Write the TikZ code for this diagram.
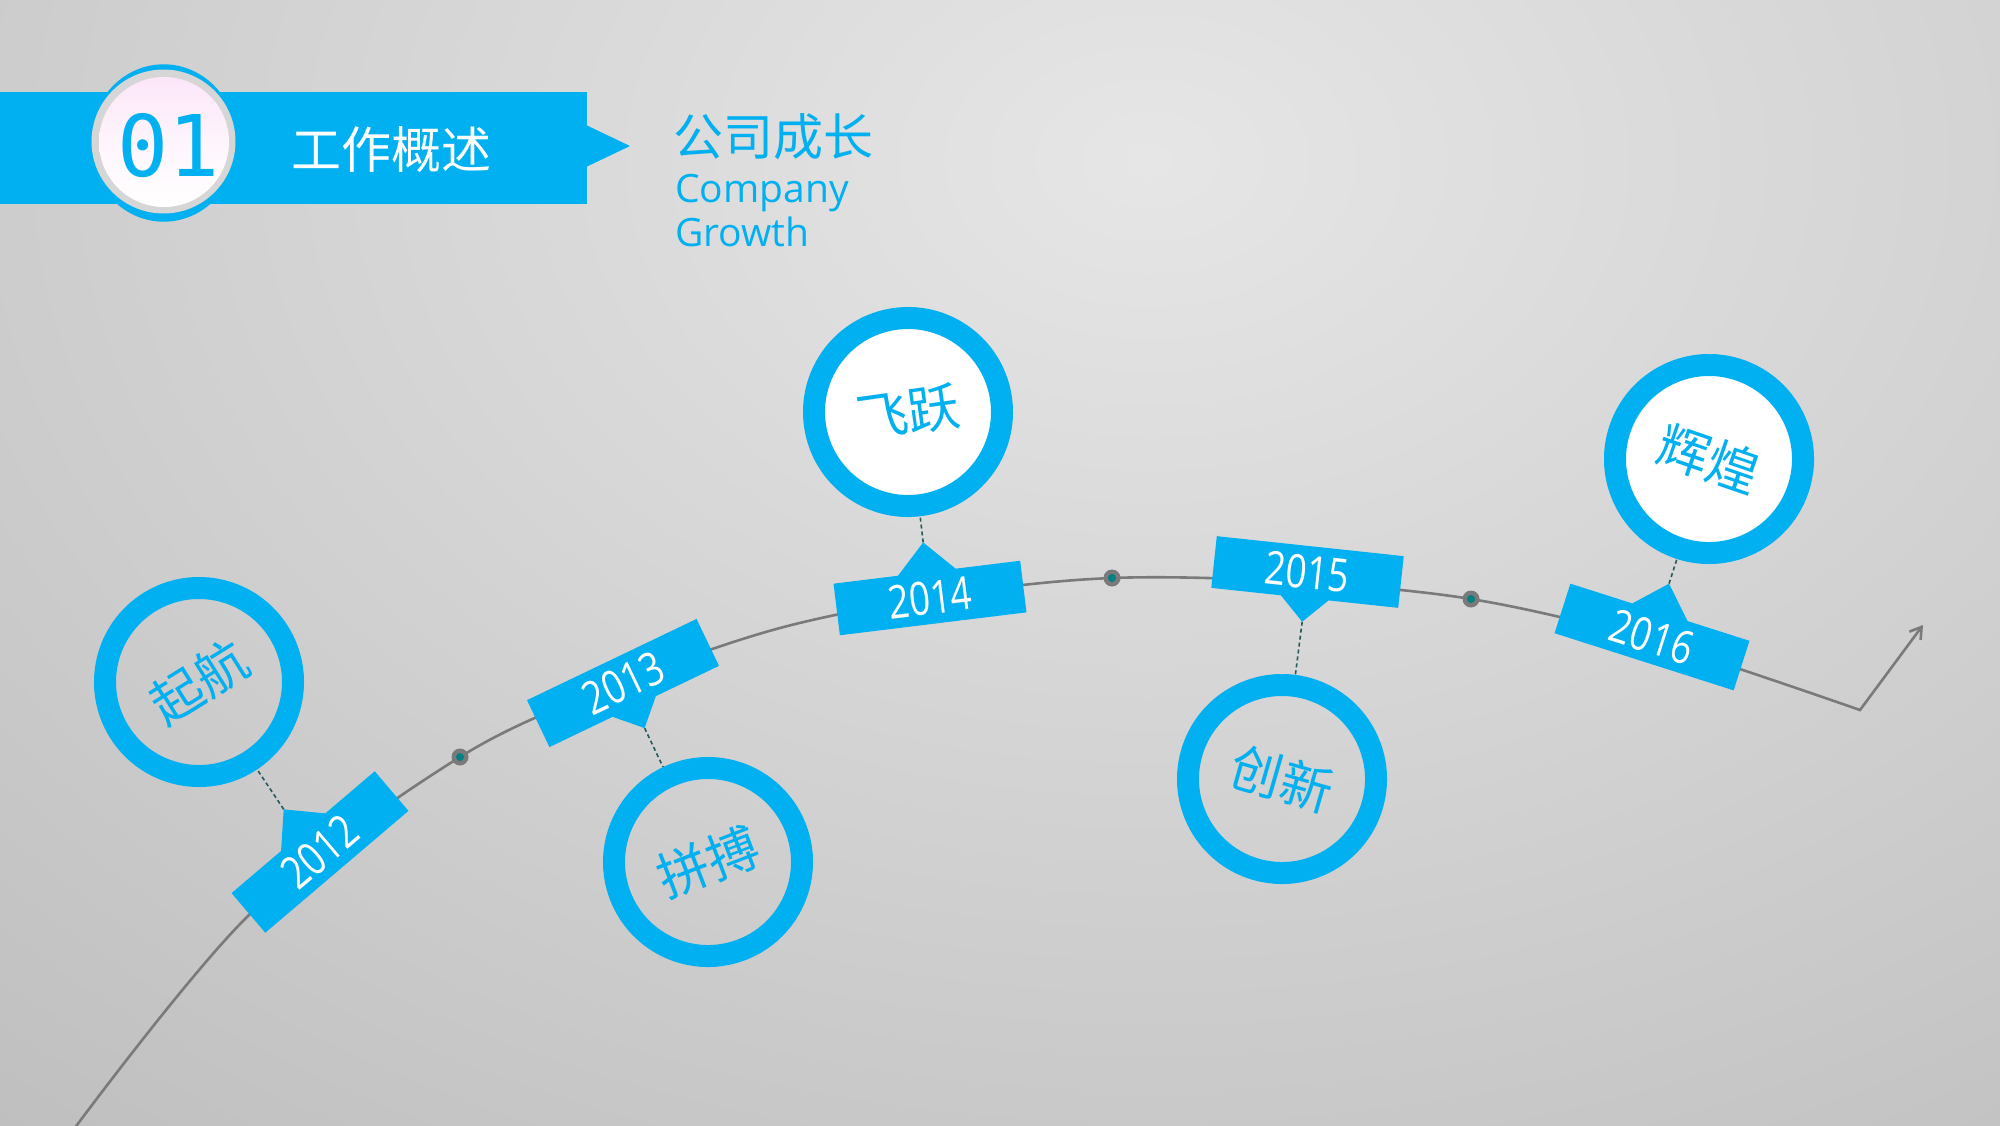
\documentclass[tikz,border=0pt]{standalone}
\usepackage{fontspec}
\newfontfamily\cjk{Noto Sans CJK SC}
\newfontfamily\latinf{Open Sans}
\newfontfamily\yearf[FakeStretch=0.8]{Open Sans}
\newfontfamily\monof{DejaVu Sans Mono}
\usetikzlibrary{arrows.meta}
\definecolor{cblue}{RGB}{0,176,240}
\definecolor{bgin}{RGB}{230,230,230}
\definecolor{bgout}{RGB}{184,184,184}
\definecolor{curvec}{RGB}{122,122,122}
\definecolor{tealc}{RGB}{0,128,128}
\definecolor{connc}{RGB}{40,90,90}
\definecolor{pinkc}{RGB}{252,230,248}
\definecolor{bevel}{RGB}{214,214,214}
\pgfdeclarelayer{back}
\pgfdeclarelayer{mid}
\pgfsetlayers{back,mid,main}
\begin{document}
\begin{tikzpicture}[x=1pt,y=-1pt,
  ring/.style={circle, draw=cblue, line width=22pt, minimum size=188pt, inner sep=0pt, text=cblue, font=\cjk\fontsize{52}{60}\selectfont},
  wring/.style={ring, fill=white},
  yeartext/.style={text=white, font=\yearf\fontsize{46}{50}\selectfont, inner sep=0pt, transform shape},
  conn/.style={draw=connc, line width=1.6pt, dash pattern=on 4pt off 3pt},
  tline/.style={draw=curvec, line width=2.6pt},
  dotout/.style={circle, fill=curvec, minimum size=17pt, inner sep=0pt},
  dotin/.style={circle, fill=tealc, minimum size=8pt, inner sep=0pt}]

\useasboundingbox (0,0) rectangle (2000,1125);
\begin{pgfonlayer}{back}
  \clip (0,0) rectangle (2000,1125);
  \fill[bgout] (0,0) rectangle (2000,1125);
  \shade[inner color=bgin, outer color=bgout] (1150,160) ellipse [x radius=2100pt, y radius=1500pt];
\end{pgfonlayer}

% header
\fill[cblue] (0,92) rectangle (587,204);
\fill[cblue] (586,125) -- (630,146) -- (586,167) -- cycle;
\fill[cblue] (163.7,143) ellipse [x radius=73.7pt, y radius=78.7pt];
\fill[bevel] (163.5,141.5) circle (72pt);
\shade[top color=pinkc, bottom color=white, middle color=pinkc!40!white] (164,142) circle (65pt);
\node[text=cblue, font=\monof\fontsize{85}{90}\selectfont, inner sep=0pt] (num) at (168.5,146) {01};
\node[text=white, font=\cjk\fontsize{50}{60}\selectfont, inner sep=0pt] (title) at (391,150) {工作概述};
\node[text=cblue, font=\cjk\fontsize{50}{60}\selectfont, inner sep=0pt, anchor=west] (sub) at (673,137) {公司成长};
\node[text=cblue, font=\latinf\fontsize{39}{44}\selectfont, inner sep=0pt, anchor=base west] (en1) at (675,202) {Company};
\node[text=cblue, font=\latinf\fontsize{39}{44}\selectfont, inner sep=0pt, anchor=base west] (en2) at (675,246) {Growth};

% curve coordinates
\coordinate (p0) at (71,1133);
\coordinate (p1) at (250,914);
\coordinate (d1) at (460,757);
\coordinate (p2) at (620,683.5);
\coordinate (p3) at (780,628);
\coordinate (p4) at (950,594.5);
\coordinate (d2) at (1112,578);
\coordinate (p5) at (1290,581.5);
\coordinate (d3) at (1471,599);
\coordinate (p6) at (1650,640.5);
\coordinate (p7) at (1860,710);
\coordinate (pe) at (1923,625);

% year labels
\begin{scope}[shift={(320,852)}, rotate=40.4]
  \fill[cblue] (-94,-26) -- (-29,-26) -- (0,-56) -- (29,-26) -- (94,-26) -- (94,26) -- (-94,26) -- cycle;
  \node[yeartext] (y12) at (0,0) {2012};
  \coordinate (t12) at (0,-56);
\end{scope}
\begin{scope}[shift={(623,683)}, rotate=25.6]
  \fill[cblue] (-94,-26) -- (94,-26) -- (94,26) -- (24,26) -- (0,50) -- (-24,26) -- (-94,26) -- cycle;
  \node[yeartext] (y13) at (0,0) {2013};
  \coordinate (t13) at (0,50);
\end{scope}
\begin{scope}[shift={(930,598)}, rotate=7]
  \fill[cblue] (-94,-26) -- (-29,-26) -- (0,-56) -- (29,-26) -- (94,-26) -- (94,26) -- (-94,26) -- cycle;
  \node[yeartext] (y14) at (0,0) {2014};
  \coordinate (t14) at (0,-56);
\end{scope}
\begin{scope}[shift={(1307.5,572)}, rotate=-6.1]
  \fill[cblue] (-94,-26) -- (94,-26) -- (94,26) -- (24,26) -- (0,50) -- (-24,26) -- (-94,26) -- cycle;
  \node[yeartext] (y15) at (0,0) {2015};
  \coordinate (t15) at (0,50);
\end{scope}
\begin{scope}[shift={(1652,637)}, rotate=-17.7]
  \fill[cblue] (-94,-26) -- (-29,-26) -- (0,-56) -- (29,-26) -- (94,-26) -- (94,26) -- (-94,26) -- cycle;
  \node[yeartext] (y16) at (0,0) {2016};
  \coordinate (t16) at (0,-56);
\end{scope}

% circles
\node[ring, rotate=32] (c12) at (199,682) {起航};
\node[ring, rotate=21] (c13) at (708,862) {拼搏};
\node[wring, rotate=8] (c14) at (908,412) {飞跃};
\node[ring, rotate=-16] (c15) at (1282,779) {创新};
\node[wring, rotate=-19] (c16) at (1709,459) {辉煌};

% dots
\node[dotout] (dot1) at (d1) {};
\node[dotin] (dot1i) at (d1) {};
\node[dotout] (dot2) at (d2) {};
\node[dotin] (dot2i) at (d2) {};
\node[dotout] (dot3) at (d3) {};
\node[dotin] (dot3i) at (d3) {};

\begin{pgfonlayer}{mid}
  \draw[tline, -{Straight Barb[length=11pt,width=14pt]}] plot[smooth, tension=0.55] coordinates {(p0) (p1) (d1) (p2) (p3) (p4) (d2) (p5) (d3) (p6) (p7)} -- (pe);
  \draw[conn] (t12) -- (c12);
  \draw[conn] (t13) -- (c13);
  \draw[conn] (t14) -- (c14);
  \draw[conn] (t15) -- (c15);
  \draw[conn] (t16) -- (c16);
\end{pgfonlayer}
\end{tikzpicture}
\end{document}
